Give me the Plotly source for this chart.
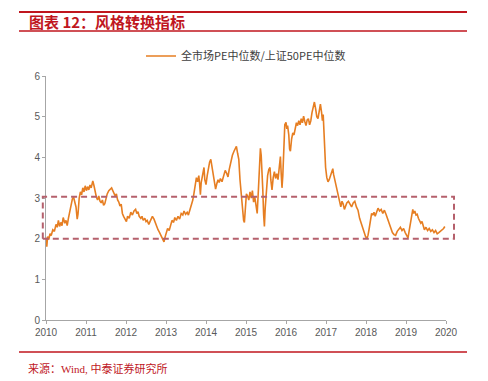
import plotly.graph_objects as go

# ---- data ----
t = [2010.00, 2010.01, 2010.02, 2010.04, 2010.07, 2010.10, 2010.13, 2010.17, 2010.21, 2010.25,
     2010.28, 2010.31, 2010.34, 2010.37, 2010.40, 2010.43, 2010.47, 2010.50, 2010.53, 2010.56,
     2010.60, 2010.63, 2010.66, 2010.69, 2010.72, 2010.75, 2010.78, 2010.80, 2010.83, 2010.86,
     2010.89, 2010.92, 2010.95, 2010.98, 2011.01, 2011.04, 2011.07, 2011.10, 2011.13, 2011.17,
     2011.20, 2011.23, 2011.26, 2011.29, 2011.32, 2011.35, 2011.38, 2011.41, 2011.44, 2011.47,
     2011.50, 2011.53, 2011.57, 2011.61, 2011.64, 2011.67, 2011.70, 2011.73, 2011.76, 2011.79,
     2011.82, 2011.85, 2011.88, 2011.91, 2011.94, 2011.97, 2012.01, 2012.04, 2012.08, 2012.12,
     2012.16, 2012.20, 2012.24, 2012.27, 2012.30, 2012.33, 2012.37, 2012.40, 2012.43, 2012.47,
     2012.50, 2012.53, 2012.57, 2012.60, 2012.63, 2012.66, 2012.70, 2012.73, 2012.77, 2012.80,
     2012.84, 2012.88, 2012.92, 2012.95, 2012.98, 2013.01, 2013.04, 2013.08, 2013.12, 2013.15,
     2013.19, 2013.22, 2013.26, 2013.30, 2013.34, 2013.38, 2013.42, 2013.45, 2013.49, 2013.53,
     2013.56, 2013.60, 2013.64, 2013.67, 2013.70, 2013.73, 2013.76, 2013.79, 2013.82, 2013.84,
     2013.86, 2013.88, 2013.92, 2013.95, 2013.97, 2014.00, 2014.03, 2014.06, 2014.09, 2014.12,
     2014.15, 2014.18, 2014.21, 2014.24, 2014.27, 2014.30, 2014.33, 2014.36, 2014.40, 2014.44,
     2014.48, 2014.52, 2014.55, 2014.58, 2014.62, 2014.66, 2014.70, 2014.73, 2014.76, 2014.79,
     2014.82, 2014.85, 2014.88, 2014.91, 2014.94, 2014.96, 2014.98, 2015.01, 2015.04, 2015.07,
     2015.10, 2015.13, 2015.16, 2015.19, 2015.22, 2015.25, 2015.28, 2015.31, 2015.34, 2015.36,
     2015.38, 2015.40, 2015.42, 2015.44, 2015.46, 2015.48, 2015.51, 2015.54, 2015.57, 2015.60,
     2015.62, 2015.65, 2015.68, 2015.71, 2015.74, 2015.77, 2015.80, 2015.83, 2015.86, 2015.88,
     2015.90, 2015.92, 2015.95, 2015.97, 2016.00, 2016.02, 2016.04, 2016.07, 2016.09, 2016.11,
     2016.14, 2016.17, 2016.20, 2016.23, 2016.26, 2016.29, 2016.32, 2016.35, 2016.38, 2016.41,
     2016.44, 2016.47, 2016.50, 2016.53, 2016.56, 2016.59, 2016.62, 2016.65, 2016.68, 2016.71,
     2016.74, 2016.77, 2016.80, 2016.83, 2016.86, 2016.89, 2016.91, 2016.93, 2016.95, 2016.97,
     2016.99, 2017.02, 2017.05, 2017.08, 2017.11, 2017.14, 2017.17, 2017.19, 2017.22, 2017.25,
     2017.28, 2017.31, 2017.34, 2017.37, 2017.40, 2017.43, 2017.46, 2017.49, 2017.52, 2017.56,
     2017.60, 2017.64, 2017.68, 2017.72, 2017.76, 2017.80, 2017.84, 2017.87, 2017.90, 2017.93,
     2017.96, 2017.99, 2018.02, 2018.05, 2018.08, 2018.11, 2018.14, 2018.17, 2018.20, 2018.23,
     2018.26, 2018.30, 2018.34, 2018.38, 2018.42, 2018.46, 2018.50, 2018.54, 2018.58, 2018.62,
     2018.66, 2018.70, 2018.74, 2018.78, 2018.82, 2018.86, 2018.90, 2018.94, 2018.98, 2019.02,
     2019.05, 2019.08, 2019.11, 2019.14, 2019.17, 2019.19, 2019.22, 2019.25, 2019.28, 2019.31,
     2019.34, 2019.37, 2019.40, 2019.43, 2019.46, 2019.50, 2019.54, 2019.58, 2019.62, 2019.66,
     2019.70, 2019.74, 2019.78, 2019.82, 2019.86, 2019.90, 2019.94, 2019.97]

pe_ratio = [2.02, 1.85, 1.80, 2.05, 1.98, 2.12, 2.08, 2.22, 2.18, 2.35,
            2.28, 2.45, 2.30, 2.40, 2.32, 2.52, 2.38, 2.45, 2.32, 2.50,
            2.70, 2.85, 2.98, 3.02, 2.90, 2.78, 2.48, 2.60, 3.00, 3.15,
            3.08, 3.25, 3.15, 3.30, 3.18, 3.28, 3.20, 3.32, 3.25, 3.42,
            3.30, 3.10, 3.02, 2.95, 3.05, 2.92, 2.88, 2.95, 2.82, 2.86,
            3.00, 3.10, 3.18, 3.22, 3.25, 3.18, 3.12, 3.05, 3.10, 2.95,
            2.90, 2.80, 2.85, 2.62, 2.55, 2.50, 2.42, 2.55, 2.50, 2.65,
            2.58, 2.68, 2.72, 2.62, 2.66, 2.55, 2.50, 2.55, 2.45, 2.50,
            2.42, 2.45, 2.35, 2.42, 2.50, 2.55, 2.48, 2.40, 2.28, 2.22,
            2.15, 2.05, 1.98, 1.92, 2.05, 2.18, 2.25, 2.20, 2.35, 2.45,
            2.40, 2.52, 2.45, 2.55, 2.48, 2.62, 2.58, 2.68, 2.60, 2.65,
            2.58, 2.72, 2.82, 2.95, 3.12, 3.30, 3.50, 3.40, 3.55, 3.35,
            3.08, 3.38, 3.60, 3.75, 3.45, 3.33, 3.55, 3.78, 3.88, 3.95,
            3.75, 3.58, 3.40, 3.22, 3.35, 3.45, 3.38, 3.48, 3.40, 3.52,
            3.68, 3.60, 3.52, 3.70, 3.88, 4.05, 4.15, 4.20, 4.27, 4.10,
            3.95, 3.45, 3.05, 2.70, 2.45, 2.40, 2.70, 3.10, 3.05, 2.95,
            3.15, 3.00, 3.18, 2.90, 3.02, 2.78, 2.62, 3.20, 3.90, 4.22,
            4.05, 3.70, 3.20, 2.60, 2.30, 2.75, 3.30, 3.55, 3.70, 3.75,
            3.45, 3.20, 3.50, 3.65, 3.48, 3.60, 3.45, 3.70, 4.02, 3.60,
            3.25, 3.55, 4.30, 4.80, 4.86, 4.70, 4.78, 4.55, 4.20, 4.15,
            4.45, 4.60, 4.55, 4.70, 4.85, 4.78, 4.90, 4.80, 4.95, 4.85,
            5.01, 4.88, 4.78, 4.92, 4.95, 4.80, 4.90, 5.10, 5.25, 5.36,
            5.20, 5.00, 4.95, 5.20, 5.31, 5.10, 4.90, 5.05, 4.60, 4.20,
            3.75, 3.50, 3.40, 3.45, 3.55, 3.60, 3.72, 3.58, 3.45, 3.30,
            3.15, 3.05, 2.90, 2.78, 2.92, 2.85, 2.72, 2.80, 2.88, 2.92,
            2.85, 2.78, 2.88, 2.92, 2.78, 2.70, 2.50, 2.40, 2.30, 2.25,
            2.12, 2.05, 2.00, 2.08, 2.25, 2.45, 2.62, 2.58, 2.65, 2.55,
            2.62, 2.75, 2.68, 2.72, 2.62, 2.70, 2.60, 2.48, 2.35, 2.28,
            2.15, 2.10, 2.08, 2.18, 2.22, 2.28, 2.20, 2.25, 2.15, 2.05,
            2.02, 2.20, 2.35, 2.55, 2.72, 2.62, 2.68, 2.58, 2.60, 2.50,
            2.45, 2.38, 2.42, 2.30, 2.22, 2.28, 2.20, 2.25, 2.18, 2.22,
            2.15, 2.20, 2.12, 2.15, 2.18, 2.22, 2.25, 2.30]

years = [2010, 2011, 2012, 2013, 2014, 2015, 2016, 2017, 2018, 2019, 2020]
y_ticks = [0, 1, 2, 3, 4, 5, 6]
band = [2.0, 3.03]  # highlighted range

series_name = "全市场PE中位数/上证50PE中位数"
title_text = "图表 12：风格转换指标"
source_text = "来源：Wind, 中泰证券研究所"

RED = "#C0161E"
ORANGE = "#E67E22"
GRAY_TXT = "#595959"
AXIS = "#A6A6A6"

fig = go.Figure()
fig.add_trace(go.Scatter(
    x=t, y=pe_ratio, mode="lines", name=series_name,
    line=dict(color=ORANGE, width=1.6),
))

# page body keeps an 8px default margin, so the figure is 8px smaller each way
fig.update_layout(
    width=480, height=373,
    margin=dict(l=38, r=42, t=68, b=61),
    paper_bgcolor="white", plot_bgcolor="white",
    font=dict(family="Liberation Sans, Arial, Noto Sans CJK SC", size=10, color=GRAY_TXT),
    showlegend=True,
    legend=dict(
        orientation="h", x=0.5, xanchor="center", y=1.082, yanchor="middle",
        font=dict(family="Noto Sans CJK SC", size=11, color="#404040"),
        bgcolor="rgba(0,0,0,0)", itemwidth=30,
    ),
    xaxis=dict(
        range=[years[0], years[-1]], tickvals=years, ticktext=[str(y) for y in years],
        showgrid=False, zeroline=False, showline=True, linecolor=AXIS, linewidth=1,
        ticks="outside", ticklen=3, tickcolor=AXIS,
        tickfont=dict(size=10, color=GRAY_TXT),
    ),
    yaxis=dict(
        range=[y_ticks[0], y_ticks[-1]], tickvals=y_ticks,
        showgrid=False, zeroline=False, showline=True, linecolor=AXIS, linewidth=1,
        ticks="outside", ticklen=3, tickcolor=AXIS,
        tickfont=dict(size=10, color=GRAY_TXT),
    ),
)

# highlighted band (dashed rectangle)
fig.add_shape(type="rect", xref="paper", yref="y",
              x0=-0.008, x1=1.02, y0=band[0], y1=band[1],
              line=dict(color="#B5606C", width=2, dash="6px,4px"),
              fillcolor="rgba(0,0,0,0)", layer="above")

# header/footer rules
for yy, w in [(1.262, 2), (1.184, 1.5), (-0.131, 1.5)]:
    fig.add_shape(type="line", xref="paper", yref="paper",
                  x0=-0.0675, x1=1.0525, y0=yy, y1=yy,
                  line=dict(color=RED, width=w))

fig.add_annotation(text="<b>" + title_text + "</b>", xref="paper", yref="paper",
                   x=-0.047, y=1.223, xanchor="left", yanchor="middle", showarrow=False,
                   font=dict(family="Noto Sans CJK SC", size=15, color=RED))
fig.add_annotation(text=source_text, xref="paper", yref="paper",
                   x=-0.05, y=-0.197, xanchor="left", yanchor="middle", showarrow=False,
                   font=dict(family="Liberation Serif, Noto Sans CJK SC", size=11, color=RED))

fig.write_html("out.html")
